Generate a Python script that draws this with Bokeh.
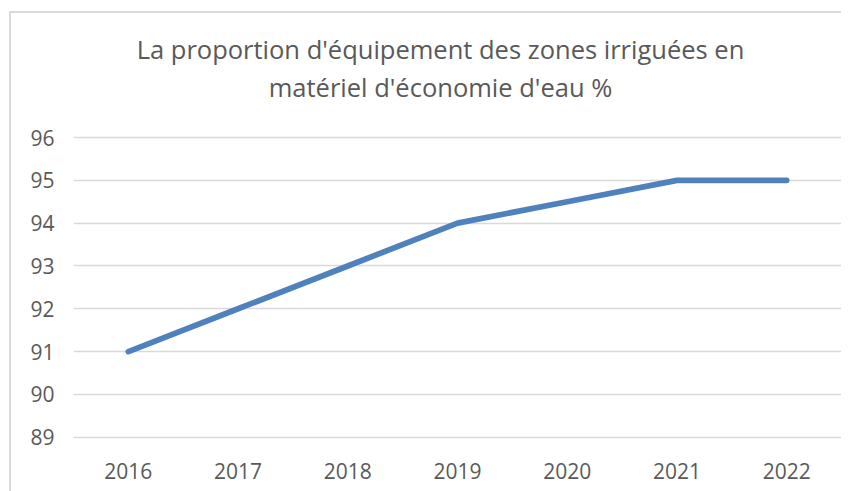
from bokeh.plotting import figure
from bokeh.models import Range1d, FactorRange, Label, FixedTicker
from bokeh.embed import file_html
from bokeh.resources import INLINE

years = ["2016", "2017", "2018", "2019", "2020", "2021", "2022"]
values = [91, 92, 93, 94, 94.5, 95, 95]
y_ticks = [89, 90, 91, 92, 93, 94, 95, 96]
title_lines = ["La proportion d'équipement des zones irriguées en",
               "matériel d'économie d'eau %"]

FONT = "Open Sans"
TXT = "#595959"
GRID = "#d9d9d9"

p = figure(width=841, height=491, x_range=FactorRange(*years), y_range=Range1d(88.9, 99.2),
           output_backend="svg", toolbar_location=None,
           min_border_left=73, min_border_right=0, min_border_top=0, min_border_bottom=50)
p.border_fill_color = None
p.background_fill_color = None
p.outline_line_color = None
p.styles = {"box-shadow": "inset 9px 11px 0 0 #ffffff, inset 11px 13px 0 0 #d9d9d9"}

p.line(years, values, line_color="#4f81bd", line_width=5.75, line_cap="round", line_join="round")

p.yaxis.ticker = FixedTicker(ticks=y_ticks)
for ax in (p.xaxis, p.yaxis):
    ax.axis_line_color = None
    ax.major_tick_line_color = None
    ax.minor_tick_line_color = None
    ax.major_label_text_font = FONT
    ax.major_label_text_font_size = "21px"
    ax.major_label_text_color = TXT
p.yaxis.major_label_standoff = 13
p.xaxis.major_label_standoff = 15
p.xgrid.grid_line_color = None
p.ygrid.grid_line_color = GRID
p.ygrid.grid_line_width = 1.4

for txt, yv in zip(title_lines, [98.06, 97.17]):
    p.add_layout(Label(x=3.345, y=yv, text=txt, text_align="center", text_baseline="alphabetic",
                       text_font=FONT, text_font_size="25.5px", text_color=TXT))

open("out.html", "w").write(file_html(p, INLINE))
